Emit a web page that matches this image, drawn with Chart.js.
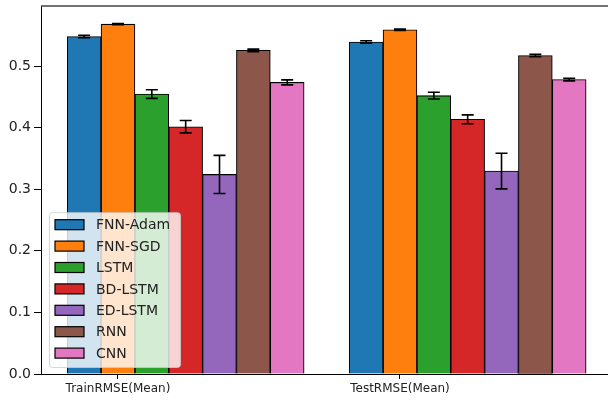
<!DOCTYPE html>
<html>
<head>
<meta charset="utf-8">
<script src="https://cdn.jsdelivr.net/npm/chart.js@4.4.1/dist/chart.umd.min.js"></script>
<style>
  html, body { margin: 0; padding: 0; background: #fff; }
  #wrap { width: 608px; height: 403px; }
</style>
</head>
<body>
<div id="wrap"><canvas id="rmseChart" width="608" height="403"></canvas></div>
<script>
// Catégories et séries
const categories = ['TrainRMSE(Mean)', 'TestRMSE(Mean)'];
const models = ['FNN-Adam', 'FNN-SGD', 'LSTM', 'BD-LSTM', 'ED-LSTM', 'RNN', 'CNN'];
const colors = ['#1f77b4', '#ff7f0e', '#2ca02c', '#d62728', '#9467bd', '#8c564b', '#e377c2'];

const trainMean = [0.548, 0.568, 0.4545, 0.4015, 0.324, 0.5255, 0.4735];
const trainErr  = [0.002, 0.001, 0.007, 0.010, 0.031, 0.002, 0.004];
const testMean  = [0.539, 0.559, 0.452, 0.4135, 0.3295, 0.517, 0.478];
const testErr   = [0.002, 0.001, 0.0055, 0.0073, 0.029, 0.002, 0.002];

const yTicks = [0, 0.1, 0.2, 0.3, 0.4, 0.5];

// largeur d'une barre en unités de l'axe x
const barWidth = 0.12;

// Barres d'erreur
const errorBars = {
    id: 'errorBars',
    afterDatasetsDraw(chart) {
        const ctx = chart.ctx;
        const yScale = chart.scales.y;
        ctx.save();
        ctx.strokeStyle = '#000';
        ctx.lineWidth = 1.6;
        chart.data.datasets.forEach((ds, i) => {
            const meta = chart.getDatasetMeta(i);
            meta.data.forEach((bar, k) => {
                const v = ds.data[k].y;
                const e = ds.errors[k];
                const top = yScale.getPixelForValue(v + e);
                const bot = yScale.getPixelForValue(v - e);
                ctx.beginPath();
                ctx.moveTo(bar.x, top); ctx.lineTo(bar.x, bot);
                ctx.moveTo(bar.x - 6, top); ctx.lineTo(bar.x + 6, top);
                ctx.moveTo(bar.x - 6, bot); ctx.lineTo(bar.x + 6, bot);
                ctx.stroke();
            });
        });
        ctx.restore();
    }
};

// Cadre du haut + légende dans la zone du graphique
const frameAndLegend = {
    id: 'frameAndLegend',
    afterDraw(chart) {
        const ctx = chart.ctx;
        const area = chart.chartArea;
        ctx.save();
        ctx.strokeStyle = '#444';
        ctx.lineWidth = 1.4;
        ctx.beginPath();
        ctx.moveTo(area.left, area.top);
        ctx.lineTo(area.right, area.top);
        ctx.stroke();

        const rowH = 21.4;
        const n = chart.data.datasets.length;
        const w = 131;
        const h = n * rowH + 5;
        const left = area.left + 8;
        const top = area.bottom - 7 - h;

        ctx.fillStyle = 'rgba(255,255,255,0.8)';
        ctx.strokeStyle = 'rgba(204,204,204,0.8)';
        ctx.lineWidth = 1;
        ctx.beginPath();
        ctx.roundRect(left + 0.5, top + 0.5, w, h, 3);
        ctx.fill();
        ctx.stroke();

        ctx.font = '14px "DejaVu Sans"';
        ctx.textBaseline = 'middle';
        chart.data.datasets.forEach((ds, j) => {
            const cy = top + 12.5 + j * rowH;
            ctx.fillStyle = ds.backgroundColor;
            ctx.fillRect(left + 6, cy - 5, 29, 10);
            ctx.strokeStyle = '#000';
            ctx.lineWidth = 1.2;
            ctx.strokeRect(left + 6, cy - 5, 29, 10);
            ctx.fillStyle = '#222';
            ctx.fillText(ds.label, left + 47, cy + 1);
        });
        ctx.restore();
    }
};

const datasets = models.map((model, i) => ({
    label: model,
    data: categories.map((c, k) => ({
        x: k + (i - 1) * barWidth,
        y: k === 0 ? trainMean[i] : testMean[i]
    })),
    errors: [trainErr[i], testErr[i]],
    backgroundColor: colors[i],
    borderColor: '#000',
    borderWidth: 1.1,
    grouped: false,
    categoryPercentage: 1,
    barPercentage: 1
}));

const ctx = document.getElementById('rmseChart').getContext('2d');
new Chart(ctx, {
    type: 'bar',
    data: { datasets },
    options: {
        responsive: false,
        animation: false,
        layout: { padding: { top: 6, left: 0, right: 0, bottom: 0 } },
        plugins: {
            legend: { display: false },
            tooltip: { enabled: false }
        },
        scales: {
            x: {
                type: 'linear',
                min: -0.273,
                max: 1.7376,
                offset: false,
                grid: { drawOnChartArea: false, drawTicks: true, tickLength: 5, tickColor: '#000', offset: false },
                border: { display: true, color: '#000', width: 1 },
                afterBuildTicks: s => { s.ticks = categories.map((c, k) => ({ value: k })); },
                ticks: {
                    callback: (v, idx) => categories[idx],
                    font: { family: 'DejaVu Sans', size: 12 },
                    color: '#222',
                    padding: 3,
                    maxRotation: 0,
                    autoSkip: false
                },
                afterFit: s => { s.height = 29; }
            },
            y: {
                min: 0,
                max: 0.5975,
                grid: { drawOnChartArea: false, drawTicks: true, tickLength: 7, tickColor: '#000' },
                border: { display: true, color: '#000', width: 1 },
                afterBuildTicks: s => { s.ticks = yTicks.map(v => ({ value: v })); },
                ticks: {
                    callback: v => v.toFixed(1),
                    font: { family: 'DejaVu Sans', size: 14 },
                    color: '#222',
                    padding: 3
                },
                afterFit: s => { s.width = 41; s.paddingTop = 0; s.paddingBottom = 0; }
            }
        }
    },
    plugins: [errorBars, frameAndLegend]
});
</script>
</body>
</html>
